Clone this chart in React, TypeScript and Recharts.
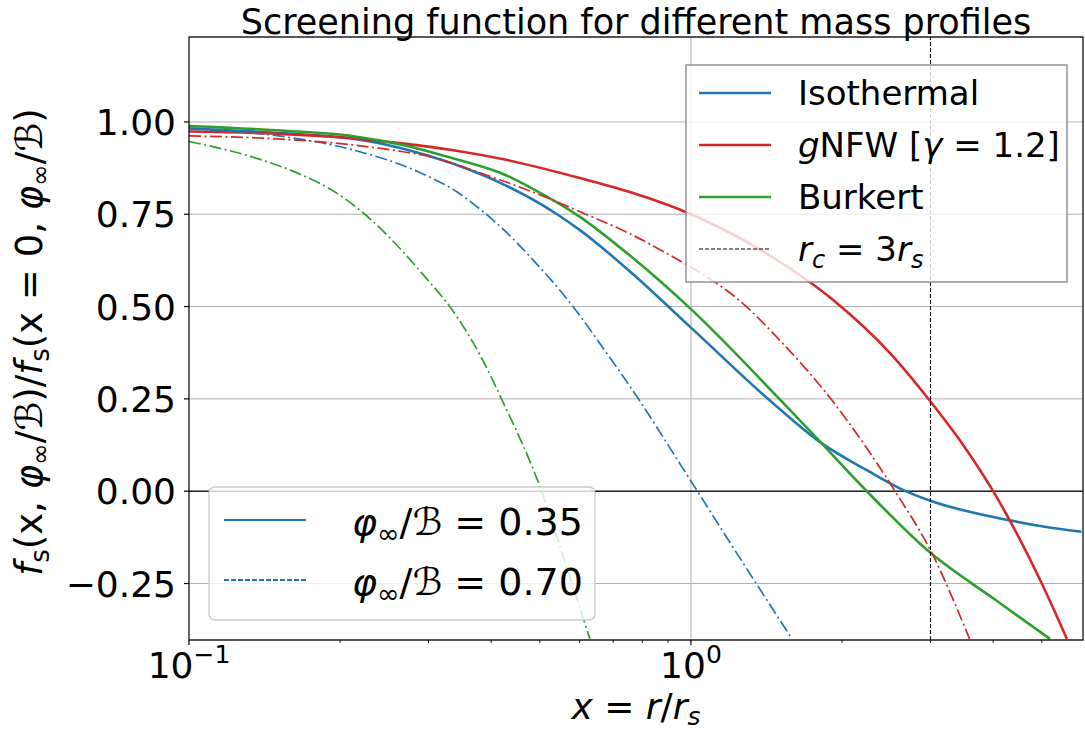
import { LineChart, Line, XAxis, YAxis, CartesianGrid, ReferenceLine } from "recharts";

const FONT = "DejaVu Sans";
const BLUE = "#1f77b4";
const RED = "#d62728";
const GREEN = "#2ca02c";

// Isothermal
const isoX35 = [0.1, 0.155, 0.211, 0.265, 0.334, 0.426, 0.541, 0.601, 0.756, 1.0, 1.5, 1.82, 2.24, 2.65, 3.0, 4.32, 5.0, 6.0];
const isoY35 = [0.983, 0.969, 0.955, 0.929, 0.888, 0.829, 0.75, 0.707, 0.595, 0.443, 0.223, 0.13, 0.057, 0.003, -0.026, -0.079, -0.095, -0.11];
const isoX70 = [0.1, 0.155, 0.211, 0.286, 0.344, 0.383, 0.426, 0.478, 0.583, 0.668, 0.791, 0.95, 1.03, 1.25, 1.59];
const isoY70 = [0.981, 0.96, 0.925, 0.865, 0.808, 0.76, 0.705, 0.635, 0.499, 0.388, 0.244, 0.075, 0.0, -0.18, -0.4];

// gNFW [gamma = 1.2]
const nfwX35 = [0.1, 0.155, 0.211, 0.265, 0.334, 0.426, 0.601, 0.756, 1.0, 1.5, 1.92, 2.5, 3.0, 3.5, 4.0, 5.0, 5.61];
const nfwY35 = [0.974, 0.967, 0.956, 0.942, 0.924, 0.898, 0.848, 0.81, 0.75, 0.622, 0.518, 0.372, 0.243, 0.122, 0.0, -0.25, -0.4];
const nfwX70 = [0.1, 0.155, 0.211, 0.265, 0.302, 0.38, 0.478, 0.601, 0.756, 0.95, 1.106, 1.25, 1.5, 1.92, 2.55, 3.0, 3.59];
const nfwY70 = [0.962, 0.953, 0.938, 0.92, 0.906, 0.862, 0.813, 0.757, 0.697, 0.624, 0.57, 0.516, 0.41, 0.242, 0.0, -0.16, -0.4];

// Burkert
const burX35 = [0.1, 0.155, 0.211, 0.265, 0.334, 0.426, 0.478, 0.601, 0.756, 1.0, 1.5, 1.82, 2.24, 3.0, 4.0, 5.19];
const burY35 = [0.989, 0.976, 0.962, 0.938, 0.902, 0.857, 0.823, 0.743, 0.638, 0.493, 0.25, 0.13, 0.0, -0.167, -0.29, -0.4];
const burX70 = [0.1, 0.133, 0.168, 0.195, 0.224, 0.265, 0.295, 0.331, 0.383, 0.42, 0.504, 0.565, 0.629];
const burY70 = [0.947, 0.906, 0.856, 0.811, 0.75, 0.653, 0.581, 0.4995, 0.36, 0.248, 0.0, -0.205, -0.4];

const xTicks = [0.1, 0.2, 0.3, 0.4, 0.5, 0.6, 0.7, 0.8, 0.9, 1, 2, 3, 4, 5];
const majorX = [0.1, 1];
const yTicks = [-0.25, 0, 0.25, 0.5, 0.75, 1];
const rc = 3;

const toPoints = (xs: number[], ys: number[]) => xs.map((x, i) => ({ x, y: ys[i] }));

const DASHDOT = "12 3.5 2 3.5";

const XTick = (props: any) => {
  const { x, y, payload } = props;
  const v = payload.value;
  const major = majorX.some((m) => Math.abs(m - v) < 1e-9);
  const exp = Math.round(Math.log10(v));
  return (
    <g>
      <line x1={x} x2={x} y1={y} y2={y + (major ? 5 : 3)} stroke="#000" strokeWidth={major ? 1.2 : 0.9} />
      {major && (
        <text x={x} y={y + 38} textAnchor="middle" fontSize={36} fontFamily={FONT} fill="#000">
          10
          <tspan dy={-15} fontSize={25}>{exp < 0 ? "\u2212" + -exp : String(exp)}</tspan>
        </text>
      )}
    </g>
  );
};

const YTick = (props: any) => {
  const { x, y, payload } = props;
  const label = payload.value.toFixed(2).replace("-", "\u2212");
  return (
    <g>
      <line x1={x - 5} x2={x} y1={y} y2={y} stroke="#000" strokeWidth={1.2} />
      <text x={x - 13} y={y + 13} textAnchor="end" fontSize={36} fontFamily={FONT} fill="#000">
        {label}
      </text>
    </g>
  );
};

const Overlay = () => (
  <svg
    width={1085}
    height={731}
    style={{ position: "absolute", left: 0, top: 0, pointerEvents: "none" }}
    fontFamily={FONT}
  >
    {/* spines */}
    <rect x={189} y={37} width={894} height={603} fill="none" stroke="#000" strokeWidth={1.2} />

    <text x={636} y={34} textAnchor="middle" fontSize={35}>
      Screening function for different mass profiles
    </text>

    <text x={636} y={719} textAnchor="middle" fontSize={36}>
      <tspan fontStyle="italic">x</tspan> = <tspan fontStyle="italic">r</tspan>/<tspan fontStyle="italic">r</tspan>
      <tspan dy={6} fontSize={25} fontStyle="italic">s</tspan>
    </text>

    <text transform="rotate(-90)" x={-342} y={42} textAnchor="middle" fontSize={37}>
      <tspan fontStyle="italic">f</tspan>
      <tspan dy={7} fontSize={26}>s</tspan>
      <tspan dy={-7}>(x, </tspan>
      <tspan fontStyle="italic">φ</tspan>
      <tspan dy={7} fontSize={26}>∞</tspan>
      <tspan dy={-7}>/ℬ)/</tspan>
      <tspan fontStyle="italic">f</tspan>
      <tspan dy={7} fontSize={26}>s</tspan>
      <tspan dy={-7}>(x = 0, </tspan>
      <tspan fontStyle="italic">φ</tspan>
      <tspan dy={7} fontSize={26}>∞</tspan>
      <tspan dy={-7}>/ℬ)</tspan>
    </text>

    {/* profile legend */}
    <rect x={686} y={65} width={381} height={217} fill="#fff" fillOpacity={0.8} stroke="#8c8c8c" strokeWidth={1.4} />
    <line x1={699} x2={771} y1={93} y2={93} stroke={BLUE} strokeWidth={2.6} />
    <text x={798} y={105} fontSize={34}>Isothermal</text>
    <line x1={699} x2={771} y1={145} y2={145} stroke={RED} strokeWidth={2.6} />
    <text x={798} y={157} fontSize={34}>
      <tspan fontStyle="italic">g</tspan>NFW [<tspan fontStyle="italic">γ</tspan> = 1.2]
    </text>
    <line x1={699} x2={771} y1={197} y2={197} stroke={GREEN} strokeWidth={2.6} />
    <text x={798} y={209} fontSize={34}>Burkert</text>
    <line x1={699} x2={771} y1={249} y2={249} stroke="#000" strokeWidth={1} strokeDasharray="4 2" />
    <text x={798} y={261} fontSize={34}>
      <tspan fontStyle="italic">r</tspan>
      <tspan dy={7} fontSize={24} fontStyle="italic">c</tspan>
      <tspan dy={-7}> = 3</tspan>
      <tspan fontStyle="italic">r</tspan>
      <tspan dy={7} fontSize={24} fontStyle="italic">s</tspan>
    </text>

    {/* phi legend */}
    <rect x={209} y={487} width={386} height={133} rx={6} fill="#fff" fillOpacity={0.8} stroke="#cccccc" strokeWidth={1.4} />
    <line x1={224} x2={306} y1={520} y2={520} stroke={BLUE} strokeWidth={2} />
    <text x={352} y={535} fontSize={38}>
      <tspan fontStyle="italic">φ</tspan>
      <tspan dy={8} fontSize={27}>∞</tspan>
      <tspan dy={-8}>/ℬ = 0.35</tspan>
    </text>
    <line x1={224} x2={306} y1={580} y2={580} stroke={BLUE} strokeWidth={2} strokeDasharray="5 2" />
    <text x={352} y={595} fontSize={38}>
      <tspan fontStyle="italic">φ</tspan>
      <tspan dy={8} fontSize={27}>∞</tspan>
      <tspan dy={-8}>/ℬ = 0.70</tspan>
    </text>
  </svg>
);

export default function App() {
  return (
    <div style={{ position: "absolute", left: 0, top: 0, width: 1085, height: 731, background: "#fff" }}>
      <LineChart width={1085} height={731} margin={{ top: 37, right: 2, bottom: 0, left: 0 }}>
        <CartesianGrid vertical={false} stroke="#b0b0b0" strokeWidth={1} />
        <XAxis
          dataKey="x"
          type="number"
          scale="log"
          domain={[0.1, 6.04]}
          allowDataOverflow
          ticks={xTicks}
          interval={0}
          height={91}
          tickSize={0}
          tickMargin={0}
          axisLine={false}
          tickLine={false}
          tick={<XTick />}
        />
        <YAxis
          type="number"
          domain={[-0.403, 1.23]}
          allowDataOverflow
          ticks={yTicks}
          interval={0}
          width={189}
          tickSize={0}
          tickMargin={0}
          axisLine={false}
          tickLine={false}
          tick={<YTick />}
        />
        <ReferenceLine x={1} stroke="#b0b0b0" strokeWidth={1} />
        <ReferenceLine y={0} stroke="#222" strokeWidth={1.5} />
        <Line data={toPoints(isoX35, isoY35)} dataKey="y" type="monotoneX" stroke={BLUE} strokeWidth={2.6} dot={false} isAnimationActive={false} />
        <Line data={toPoints(nfwX35, nfwY35)} dataKey="y" type="monotoneX" stroke={RED} strokeWidth={2.6} dot={false} isAnimationActive={false} />
        <Line data={toPoints(burX35, burY35)} dataKey="y" type="monotoneX" stroke={GREEN} strokeWidth={2.6} dot={false} isAnimationActive={false} />
        <Line data={toPoints(isoX70, isoY70)} dataKey="y" type="monotoneX" stroke={BLUE} strokeWidth={1.7} strokeDasharray={DASHDOT} dot={false} isAnimationActive={false} />
        <Line data={toPoints(nfwX70, nfwY70)} dataKey="y" type="monotoneX" stroke={RED} strokeWidth={1.7} strokeDasharray={DASHDOT} dot={false} isAnimationActive={false} />
        <Line data={toPoints(burX70, burY70)} dataKey="y" type="monotoneX" stroke={GREEN} strokeWidth={1.7} strokeDasharray={DASHDOT} dot={false} isAnimationActive={false} />
        <ReferenceLine x={rc} stroke="#000" strokeWidth={1} strokeDasharray="4 2" />
      </LineChart>
      <Overlay />
    </div>
  );
}
